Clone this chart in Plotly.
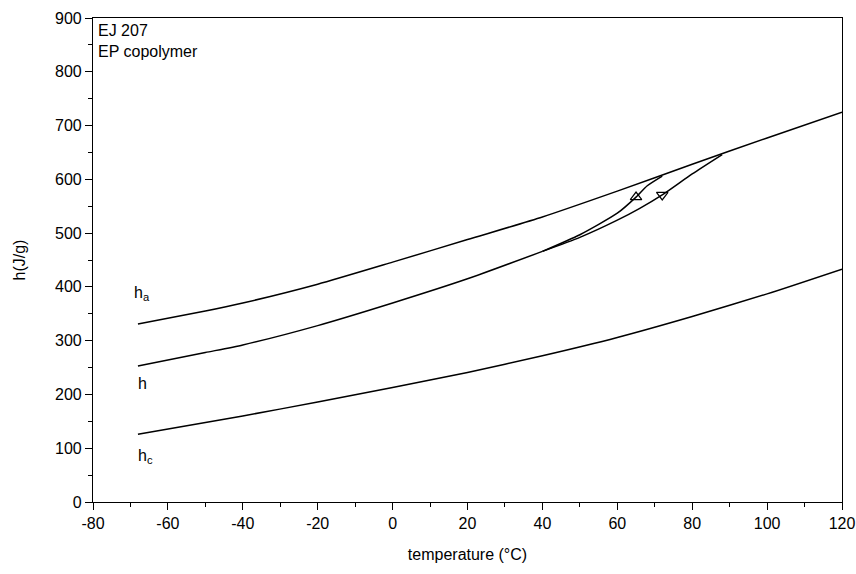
import plotly.graph_objects as go

# Enthalpy curves, h in J/g versus temperature in °C
t_ha = [-68, -50, -40, -20, 0, 20, 40, 60, 80, 100, 120]
h_ha = [331, 355, 370, 405, 446, 488, 530, 578, 628, 677, 725]

t_h = [-68, -50, -40, -20, 0, 20, 40]
h_h = [253, 278, 292, 328, 370, 415, 466]

# the two branches of h in the melting range
t_up = [40, 50, 60, 65, 68, 72]
h_up = [466, 497, 537, 567, 588, 606]
t_down = [40, 50, 60, 66, 72, 80, 88]
h_down = [466, 492, 524, 546, 571, 610, 646]

t_hc = [-68, -40, -20, 0, 20, 40, 60, 80, 100, 120]
h_hc = [126, 160, 186, 213, 241, 272, 306, 345, 387, 433]

marker_up = (65, 567)
marker_down = (72, 571)

x_ticks = [-80, -60, -40, -20, 0, 20, 40, 60, 80, 100, 120]
x_labels = ["-80", "-60", "-40", "-20", "0", "20", "40", "60", "80", "100", "120"]
y_ticks = [0, 100, 200, 300, 400, 500, 600, 700, 800, 900]

line = dict(color="black", width=1.5)
fig = go.Figure()
for xs, ys in [(t_ha, h_ha), (t_h, h_h), (t_up, h_up), (t_down, h_down), (t_hc, h_hc)]:
    fig.add_trace(go.Scatter(x=xs, y=ys, mode="lines", line=dict(line, shape="spline", smoothing=0.6),
                             showlegend=False, hoverinfo="skip", cliponaxis=False))

fig.add_trace(go.Scatter(x=[marker_up[0]], y=[marker_up[1]], mode="markers",
                         marker=dict(symbol="triangle-up-open", size=10, color="black", line=dict(width=1.2)),
                         showlegend=False))
fig.add_trace(go.Scatter(x=[marker_down[0]], y=[marker_down[1]], mode="markers",
                         marker=dict(symbol="triangle-down-open", size=10, color="black", line=dict(width=1.2)),
                         showlegend=False))

font = dict(family="Liberation Sans, Arial, sans-serif", size=16, color="black")
tick_font = dict(family="Liberation Sans, Arial, sans-serif", size=16, color="black")

annotations = [
    dict(x=-69.5, y=388, text="h<sub>a</sub>", xanchor="left", yanchor="middle", showarrow=False, font=font),
    dict(x=-68.5, y=220, text="h", xanchor="left", yanchor="middle", showarrow=False, font=font),
    dict(x=-68.5, y=84, text="h<sub>c</sub>", xanchor="left", yanchor="middle", showarrow=False, font=font),
    dict(x=0.004, y=0.995, xref="paper", yref="paper", text="EJ 207<br>EP copolymer", align="left",
         xanchor="left", yanchor="top", showarrow=False, font=font),
]

fig.update_layout(
    width=856, height=574,
    margin=dict(l=93, r=14, t=18, b=72),
    paper_bgcolor="white", plot_bgcolor="white",
    font=font,
    annotations=annotations,
    xaxis=dict(range=[-80, 120], tickvals=x_ticks, ticktext=x_labels, tickfont=tick_font,
               ticks="outside", ticklen=7, tickwidth=1.2, automargin=False, ticklabeloverflow="allow",
               tickcolor="black", showline=True, linecolor="black", linewidth=1.2, mirror=True,
               showgrid=False, zeroline=False,
               minor=dict(dtick=10, ticks="outside", ticklen=4, tickcolor="black", tickwidth=1),
               title=dict(text="temperature (°C)", standoff=17, font=font)),
    yaxis=dict(range=[0, 900], tickvals=y_ticks, tickfont=tick_font,
               ticks="outside", ticklen=7, tickwidth=1.2, automargin=False,
               tickcolor="black", showline=True, linecolor="black", linewidth=1.2, mirror=True,
               showgrid=False, zeroline=False,
               minor=dict(dtick=50, ticks="outside", ticklen=4, tickcolor="black", tickwidth=1),
               title=dict(text="h(J/g)", standoff=25, font=font)),
)

fig.write_html("out.html")
